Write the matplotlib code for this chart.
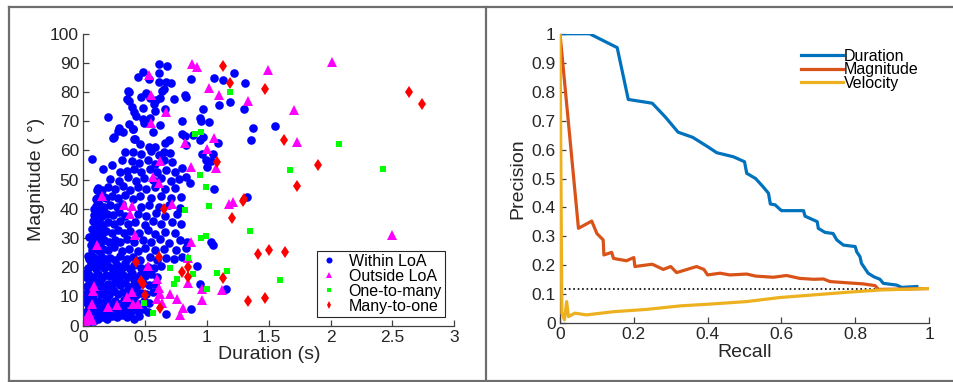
import matplotlib
matplotlib.use("Agg")
import matplotlib.pyplot as plt
from matplotlib.lines import Line2D

plt.rcParams["font.family"] = ["Liberation Sans", "DejaVu Sans"]

# ---- left panel: duration vs magnitude ----
within_loa = [
    # sparse upper area
    (0.07, 57), (0.20, 71.5), (0.61, 89.6), (0.68, 89), (0.48, 87), (0.44, 85),
    (0.53, 84.6), (0.61, 86.6), (0.61, 83.4), (0.67, 83.3), (0.71, 83), (0.87, 84.6),
    (1.06, 84.8), (1.13, 84), (1.22, 86.4), (1.31, 83.2), (1.19, 76.7), (1.10, 75.6),
    (1.30, 74.2), (0.82, 78.9), (0.83, 78.3), (0.37, 80), (0.35, 77.7), (0.37, 77),
    (0.39, 74.8), (0.41, 73.3), (0.43, 71.8), (0.47, 78.4), (0.51, 79.8), (0.54, 77.9),
    (0.59, 77.3), (0.62, 77.9), (0.64, 80.5), (0.65, 81), (0.73, 77.7), (0.57, 75.8),
    (0.66, 74.2), (0.58, 73.4), (0.48, 74.4), (0.48, 70.9), (0.49, 69.3), (0.54, 71.2),
    (0.62, 68.7), (0.37, 69.1), (0.40, 67.5), (0.32, 66.4), (0.29, 67.6), (0.25, 64.5),
    (0.41, 64), (0.46, 62.2), (0.53, 61.3), (0.56, 66.4), (0.58, 61.3), (0.66, 62.4),
    (0.69, 63.6), (0.65, 59.5), (0.80, 70), (0.80, 65.5), (0.82, 65), (0.83, 61.9),
    (0.97, 74.1), (0.94, 71.1), (0.95, 70.1), (1.02, 69.6), (0.89, 65.3), (0.94, 63.6),
    (0.97, 64.5), (1.09, 62.7), (0.96, 58.9), (0.99, 56.7), (1.03, 56.3), (1.05, 58.7),
    (1.00, 54.5), (1.06, 46.9), (0.86, 48.7), (0.83, 51), (0.80, 53.9), (1.32, 44.2),
    (1.36, 63.6), (1.37, 67.8), (1.55, 68.5), (1.05, 27.6), (1.03, 28.5), (1.15, 12.7),
    (0.87, 5.8), (0.92, 20.4), (0.94, 14.3), (0.67, 4), (0.36, 80.4), (0.40, 67.2),
    (0.42, 63.8), (0.28, 66.7), (0.24, 64.4),
    # dense lower cluster
    (0.02, 0.5), (0.03, 2.1), (0.05, 1.2), (0.07, 2.8), (0.09, 1.6), (0.12, 2.4),
    (0.16, 3.1), (0.19, 2.2), (0.23, 3.4), (0.27, 2.9), (0.31, 3.6), (0.35, 3.0),
    (0.38, 3.9), (0.41, 2.2), (0.45, 3.3),
    (0.02, 4.6), (0.04, 5.5), (0.07, 4.9), (0.10, 5.8), (0.13, 4.4), (0.17, 5.6),
    (0.20, 4.8), (0.24, 5.9), (0.28, 5.1), (0.32, 5.7), (0.36, 4.7), (0.40, 5.4),
    (0.44, 5.0), (0.48, 5.8), (0.52, 4.6),
    (0.03, 7.9), (0.06, 8.6), (0.09, 7.5), (0.12, 8.4), (0.15, 7.7), (0.19, 8.8),
    (0.22, 7.6), (0.26, 8.3), (0.29, 7.4), (0.33, 8.9), (0.37, 7.8), (0.41, 8.6),
    (0.45, 7.3), (0.49, 8.5), (0.53, 7.9),
    (0.02, 10.8), (0.05, 11.6), (0.08, 10.5), (0.11, 11.9), (0.14, 10.7), (0.18, 11.3),
    (0.21, 10.4), (0.25, 11.8), (0.28, 10.9), (0.32, 11.4), (0.35, 10.3), (0.39, 11.7),
    (0.43, 10.6), (0.47, 11.2), (0.51, 10.9), (0.56, 11.5),
    (0.03, 13.7), (0.06, 14.5), (0.10, 13.9), (0.13, 14.8), (0.16, 13.5), (0.20, 14.3),
    (0.23, 13.6), (0.27, 14.9), (0.30, 13.8), (0.34, 14.6), (0.37, 13.4), (0.41, 14.2),
    (0.44, 13.8), (0.48, 14.7), (0.53, 13.9), (0.58, 14.4),
    (0.02, 16.6), (0.05, 17.4), (0.08, 16.8), (0.12, 17.7), (0.15, 16.4), (0.18, 17.2),
    (0.22, 16.9), (0.25, 17.8), (0.29, 16.5), (0.32, 17.3), (0.36, 16.7), (0.39, 17.9),
    (0.42, 16.3), (0.46, 17.5), (0.50, 16.9), (0.55, 17.6), (0.60, 16.8),
    (0.04, 19.8), (0.07, 20.6), (0.10, 19.5), (0.13, 20.9), (0.17, 19.7), (0.20, 20.4),
    (0.24, 19.6), (0.27, 20.8), (0.31, 19.9), (0.34, 20.5), (0.38, 19.4), (0.41, 20.7),
    (0.47, 19.8), (0.52, 20.2), (0.57, 19.7), (0.63, 20.4),
    (0.10, 3.5), (0.14, 6.2), (0.18, 9.8), (0.22, 12.4), (0.26, 15.6), (0.30, 18.5),
    (0.34, 21.3), (0.38, 9.6), (0.42, 12.8), (0.46, 15.8), (0.50, 18.7), (0.16, 21.7),
    (0.24, 18.8), (0.32, 6.8), (0.36, 12.3), (0.40, 16.2), (0.28, 3.9),
    # middle band
    (0.05, 22.8), (0.08, 23.6), (0.11, 22.5), (0.14, 23.9), (0.18, 22.7), (0.22, 23.3),
    (0.26, 22.6), (0.30, 23.8), (0.35, 22.9), (0.40, 23.4), (0.46, 22.6), (0.54, 23.5),
    (0.60, 22.4), (0.67, 23.2), (0.73, 22.8), (0.80, 23.6),
    (0.07, 25.8), (0.10, 26.7), (0.13, 25.5), (0.16, 26.4), (0.20, 25.9), (0.25, 26.8),
    (0.31, 25.7), (0.37, 26.3), (0.44, 25.6), (0.50, 26.5), (0.58, 25.9), (0.65, 26.2),
    (0.75, 25.8), (0.83, 26.6),
    (0.08, 28.9), (0.11, 29.6), (0.14, 28.5), (0.17, 29.4), (0.21, 28.7), (0.26, 29.5),
    (0.30, 28.6), (0.35, 29.8), (0.41, 28.8), (0.48, 29.3), (0.55, 28.5), (0.62, 29.6),
    (0.69, 28.4), (0.78, 29.2), (0.84, 28.8),
    (0.09, 31.8), (0.12, 32.6), (0.15, 31.5), (0.18, 32.4), (0.23, 31.7), (0.28, 32.8),
    (0.33, 31.6), (0.38, 32.3), (0.45, 31.9), (0.52, 32.7), (0.58, 31.4), (0.66, 32.2),
    (0.74, 31.8),
    (0.10, 34.9), (0.13, 35.7), (0.16, 34.6), (0.20, 35.4), (0.25, 34.8), (0.30, 35.9),
    (0.36, 34.7), (0.42, 35.5), (0.50, 34.6), (0.56, 35.8), (0.63, 34.9), (0.72, 35.6),
    (0.79, 34.8),
    (0.09, 37.8), (0.12, 38.7), (0.15, 37.6), (0.19, 38.4), (0.24, 37.9), (0.29, 38.8),
    (0.34, 37.5), (0.44, 38.3), (0.51, 37.7), (0.59, 38.6), (0.66, 37.4), (0.76, 38.2),
    (0.10, 40.9), (0.13, 41.6), (0.17, 40.5), (0.22, 41.4), (0.27, 40.8), (0.31, 41.7),
    (0.47, 40.6), (0.53, 41.5), (0.61, 40.7), (0.69, 41.3), (0.78, 40.4),
    (0.11, 43.8), (0.14, 44.7), (0.18, 43.6), (0.23, 44.3), (0.28, 43.9), (0.34, 44.6),
    (0.40, 43.5), (0.46, 44.4), (0.55, 43.8), (0.63, 44.5), (0.71, 43.6), (0.79, 44.2),
    (0.12, 47.3), (0.15, 46.6), (0.20, 47.5), (0.26, 46.8), (0.32, 47.7), (0.38, 46.5),
    (0.44, 47.4), (0.51, 46.7), (0.58, 47.6), (0.66, 46.9), (0.74, 47.2),
    (0.22, 50.4), (0.29, 49.6), (0.36, 50.8), (0.43, 49.7), (0.49, 50.5), (0.56, 49.8),
    (0.63, 50.6), (0.71, 49.5), (0.77, 50.3),
    (0.16, 53.8), (0.23, 54.9), (0.30, 52.7), (0.35, 52.9), (0.41, 53.5), (0.47, 52.6),
    (0.54, 53.7), (0.60, 52.8), (0.67, 53.4), (0.74, 52.5),
    (0.31, 56.7), (0.39, 56.4), (0.45, 55.8), (0.52, 56.9), (0.58, 55.5), (0.65, 56.6),
    (0.72, 55.9),
    (0.34, 59.6), (0.40, 59.6), (0.47, 58.8), (0.55, 59.7), (0.61, 58.5), (0.70, 59.3),
    (0.05, 30.5), (0.06, 27.5), (0.07, 33), (0.08, 36), (0.09, 40), (0.10, 43.5),
    (0.11, 46.5), (0.12, 27.5), (0.14, 30.5), (0.15, 33.5), (0.16, 40), (0.17, 44),
    (0.04, 24), (0.06, 21.5), (0.03, 18.5), (0.05, 15.5), (0.04, 12.5), (0.03, 9.5),
    (0.05, 6.5), (0.04, 3.5),
]

outside_loa = [
    (0.53, 85.7), (0.88, 89.5), (0.92, 88.7), (1.02, 81.5), (1.10, 79), (1.33, 77),
    (1.49, 87.7), (2.01, 90.3), (1.70, 73.9), (1.73, 63), (0.55, 79), (0.67, 73.3),
    (0.55, 69.5), (1.06, 64.4), (1.00, 60.4), (0.82, 62.7), (0.87, 54.2), (1.07, 54.1),
    (0.62, 56.5), (0.56, 51), (0.61, 49), (1.21, 42.5), (1.18, 41.6), (0.72, 41.6),
    (0.33, 41.2), (0.39, 41), (0.38, 38.1), (0.42, 31), (0.11, 27.5), (0.15, 44.4),
    (2.50, 30.9), (0.87, 28.6), (0.85, 23.3), (0.52, 20.5), (0.60, 16), (0.61, 12.9),
    (0.62, 11), (0.70, 11), (0.76, 9.1), (0.60, 9.1), (0.64, 7.9), (0.81, 5.9),
    (0.78, 3.7), (0.96, 8.8), (0.96, 12.6), (1.12, 12.2), (0.85, 14.6), (0.39, 11.4),
    (0.35, 9.7), (0.40, 7.3), (0.44, 7.3), (0.27, 7.1), (0.20, 6.5), (0.09, 13.6),
    (0.08, 12), (0.07, 7.4), (0.04, 3.7), (0.02, 1.4), (0.05, 4.2), (0.07, 1.9),
    (0.03, 2.2), (0.01, 0.8), (0.06, 2.8),
]

one_to_many = [
    (1.19, 80), (0.90, 65.8), (0.95, 66.3), (2.07, 62.3), (0.94, 51.5), (0.99, 47.6),
    (1.67, 53.4), (2.42, 53.7), (1.02, 40.9), (0.82, 39.5), (1.35, 32.5), (0.99, 30.6),
    (0.95, 30), (0.85, 23.3), (0.70, 19.6), (0.89, 17.7), (1.08, 18.2), (1.16, 18.7),
    (0.76, 16.1), (0.73, 14.3), (1.00, 12.4), (1.59, 15.5), (0.49, 7.9), (0.56, 4.5),
]

many_to_one = [
    (1.13, 89), (1.19, 83.2), (1.47, 80.9), (2.63, 80), (2.74, 75.8), (1.62, 63.6),
    (1.08, 56.2), (1.90, 55), (1.73, 47.9), (1.29, 42.8), (1.30, 43.4), (1.20, 37),
    (0.65, 39.8), (0.61, 23.6), (0.43, 21.7), (0.47, 15.3), (0.48, 14.2), (0.85, 20.2),
    (0.85, 16.8), (0.80, 18.5), (1.13, 16.4), (1.41, 24.5), (1.50, 25.8), (1.63, 25.2),
    (1.33, 8.4), (1.47, 9.6), (0.50, 10.5), (0.62, 5.9),
]

# ---- right panel: precision-recall curves ----
dur_recall = [0, 0.08, 0.155, 0.185, 0.25, 0.285, 0.32, 0.36, 0.40, 0.425, 0.47, 0.50,
              0.506, 0.53, 0.55, 0.565, 0.57, 0.583, 0.60, 0.66, 0.664, 0.697, 0.70,
              0.718, 0.74, 0.75, 0.768, 0.80, 0.804, 0.813, 0.817, 0.826, 0.835, 0.85,
              0.867, 0.876, 0.912, 0.926, 0.967]
dur_precision = [1, 1, 0.952, 0.773, 0.76, 0.713, 0.66, 0.642, 0.61, 0.589, 0.575, 0.558,
                 0.518, 0.50, 0.472, 0.449, 0.412, 0.409, 0.389, 0.389, 0.37, 0.351, 0.328,
                 0.314, 0.31, 0.288, 0.27, 0.265, 0.247, 0.23, 0.207, 0.19, 0.173, 0.161,
                 0.152, 0.138, 0.132, 0.124, 0.127]

mag_recall = [0, 0.05, 0.086, 0.10, 0.117, 0.119, 0.14, 0.145, 0.18, 0.20, 0.203, 0.25,
              0.28, 0.30, 0.316, 0.37, 0.39, 0.40, 0.434, 0.46, 0.506, 0.53, 0.578, 0.614,
              0.65, 0.687, 0.714, 0.732, 0.777, 0.822, 0.854, 0.863, 0.92, 1.0]
mag_precision = [1, 0.328, 0.353, 0.31, 0.288, 0.236, 0.245, 0.224, 0.216, 0.227, 0.196,
                 0.204, 0.186, 0.196, 0.175, 0.196, 0.186, 0.167, 0.173, 0.167, 0.17, 0.163,
                 0.159, 0.165, 0.155, 0.152, 0.153, 0.144, 0.14, 0.136, 0.13, 0.117, 0.118,
                 0.12]

vel_recall = [0, 0.005, 0.012, 0.018, 0.023, 0.04, 0.072, 0.145, 0.235, 0.325, 0.415,
              0.506, 0.596, 0.687, 0.777, 0.867, 1.0]
vel_precision = [1, 0.035, 0.012, 0.075, 0.023, 0.035, 0.029, 0.04, 0.048, 0.06, 0.067,
                 0.075, 0.089, 0.098, 0.107, 0.115, 0.12]

baseline = 0.12

fig = plt.figure(figsize=(9.54, 3.82), dpi=100)

# panel frames
frame = dict(color="#6e6e6e", lw=1.6, transform=fig.transFigure)
fig.add_artist(Line2D([9 / 954, 1], [1 - 7 / 382, 1 - 7 / 382], **frame))
fig.add_artist(Line2D([9 / 954, 1], [1 - 381 / 382, 1 - 381 / 382], **frame))
fig.add_artist(Line2D([9 / 954, 9 / 954], [1 - 7 / 382, 1 - 381 / 382], **frame))
fig.add_artist(Line2D([486 / 954, 486 / 954], [1 - 7 / 382, 1 - 381 / 382], **frame))


def style_axes(ax):
    for side in ("top", "right"):
        ax.spines[side].set_visible(False)
    for side in ("left", "bottom"):
        ax.spines[side].set_color("#404040")
        ax.spines[side].set_linewidth(0.9)
    ax.tick_params(direction="in", length=4, width=0.9, color="#404040",
                   labelsize=12.5, labelcolor="#262626", pad=3)


ax1 = fig.add_axes([0.0873, 0.1474, 0.3889, 0.7644])
style_axes(ax1)
ax1.plot(*zip(*within_loa), "o", color="#0000ff", ms=6.2, mew=0, label="Within LoA")
ax1.plot(*zip(*outside_loa), "^", color="#ff00ff", ms=6.5, mew=0, label="Outside LoA")
ax1.plot(*zip(*one_to_many), "s", color="#00ff00", ms=4.5, mew=0, label="One-to-many")
ax1.plot(*zip(*many_to_one), "d", color="#ff0000", ms=6, mew=0, label="Many-to-one")
ax1.set_xlim(0, 3)
ax1.set_ylim(0, 100)
ax1.set_xticks([0, 0.5, 1, 1.5, 2, 2.5, 3])
ax1.set_xticklabels(["0", "0.5", "1", "1.5", "2", "2.5", "3"])
ax1.set_yticks(range(0, 101, 10))
ax1.set_xlabel("Duration (s)", fontsize=14, color="#262626", labelpad=1)
ax1.set_ylabel("Magnitude ( °)", fontsize=14, color="#262626", labelpad=4)
leg1 = ax1.legend(loc="lower right", bbox_to_anchor=(0.975, 0.03), fontsize=11.5,
                  fancybox=False, edgecolor="#262626", framealpha=1, handlelength=1.2,
                  handletextpad=0.6, borderpad=0.2, labelspacing=0.0, markerscale=0.7,
                  borderaxespad=0)
leg1.get_frame().set_linewidth(0.8)

ax2 = fig.add_axes([0.587, 0.1537, 0.3868, 0.758])
style_axes(ax2)
ax2.plot([0, 1], [baseline, baseline], ":", color="black", lw=1.2, zorder=1)
ax2.plot(dur_recall, dur_precision, color="#0072BD", lw=2.3, label="Duration", zorder=3)
ax2.plot(mag_recall, mag_precision, color="#D95319", lw=2.3, label="Magnitude", zorder=3)
ax2.plot(vel_recall, vel_precision, color="#EDB120", lw=2.3, label="Velocity", zorder=4)
ax2.set_xlim(0, 1)
ax2.set_ylim(0, 1)
ax2.set_xticks([0, 0.2, 0.4, 0.6, 0.8, 1])
ax2.set_xticklabels(["0", "0.2", "0.4", "0.6", "0.8", "1"])
ax2.set_yticks([i / 10 for i in range(11)])
ax2.set_yticklabels(["0"] + ["0.%d" % i for i in range(1, 10)] + ["1"])
ax2.set_xlabel("Recall", fontsize=14, color="#262626", labelpad=1)
ax2.set_ylabel("Precision", fontsize=14, color="#262626", labelpad=4)
ax2.legend(loc="upper right", bbox_to_anchor=(0.99, 0.97), fontsize=11.5, frameon=False,
           handlelength=2.6, handletextpad=0.1, labelspacing=-0.1, borderaxespad=0)

fig.savefig("out.png", dpi=100)
